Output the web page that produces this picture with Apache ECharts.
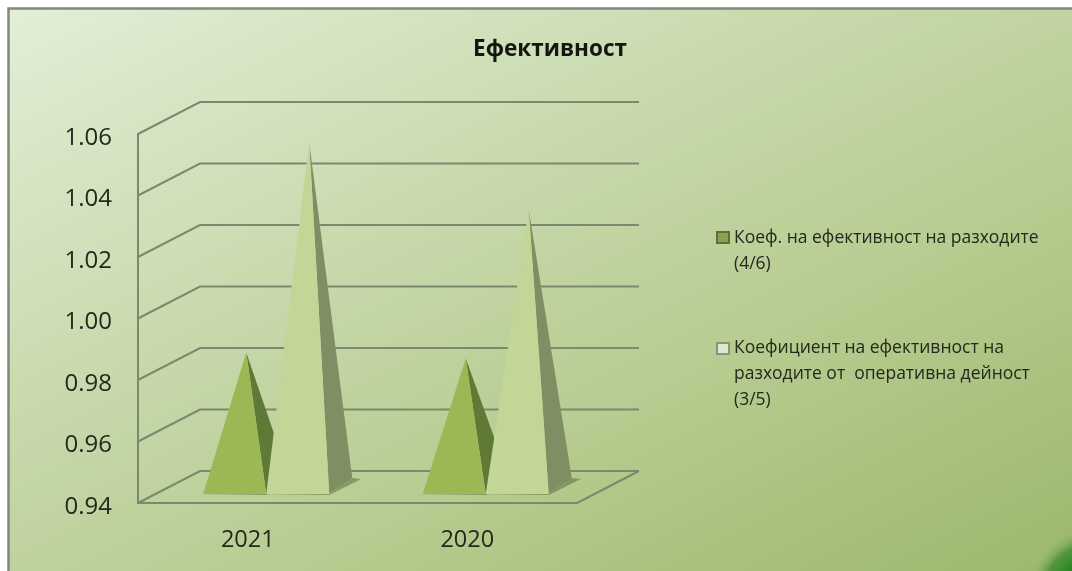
<!DOCTYPE html>
<html>
<head>
<meta charset="utf-8">
<style>html,body{margin:0;padding:0;background:#fff}#c{width:1072px;height:571px}</style>
<script src="https://cdn.jsdelivr.net/npm/echarts@6/dist/echarts.min.js"></script>
</head>
<body>
<div id="c"></div>
<script>
const titleText = 'Ефективност';
const categories = ['2021', '2020'];
const yTicks = [0.94, 0.96, 0.98, 1.00, 1.02, 1.04, 1.06];
const seriesAName = 'Коеф. на ефективност на разходите\n(4/6)';
const seriesBName = 'Коефициент на ефективност на\nразходите от  оперативна дейност\n(3/5)';
const seriesAValues = [0.9834, 0.9815];
const seriesBValues = [1.0517, 1.0299];

const FONT = '"Open Sans", sans-serif';
const WALL = { dx: 62, dy: -32 };       // depth of the 3D box
const BAR = { w: 63, dx: 23, dy: -16 }; // pyramid base
const BASE_FRONT = 0.28;                // base front edge, share of box depth
const GROUP_SHIFT = 18.5;
const GRID_COLOR = '#7a8a6c';
const TEXT_COLOR = '#23291d';

function wallItem(params, api) {
  const cs = params.coordSys;
  const y = api.coord([api.value(0), api.value(1)])[1];
  const left = cs.x, right = cs.x + cs.width;
  const children = [{
    type: 'polyline',
    shape: { points: [[left, y], [left + WALL.dx, y + WALL.dy], [right + WALL.dx, y + WALL.dy]] },
    style: { stroke: GRID_COLOR, lineWidth: 2, fill: 'none' }
  }];
  if (params.dataIndex === 0) {
    children.push({
      type: 'line',
      shape: { x1: right, y1: y, x2: right + WALL.dx, y2: y + WALL.dy },
      style: { stroke: GRID_COLOR, lineWidth: 2 }
    });
  }
  return { type: 'group', children };
}

function pyramidRenderer(side, front, shade) {
  return function (params, api) {
    const cat = api.value(0), v = api.value(1);
    const bandX = api.coord([cat, yTicks[0]]);
    const tipAt = api.coord([cat, v]);
    const x0 = bandX[0] + GROUP_SHIFT + (side === 0 ? -BAR.w : 0);
    const x1 = x0 + BAR.w;
    const y0 = bandX[1] + WALL.dy * BASE_FRONT;
    const tip = [x0 + BAR.w / 2 + BAR.dx / 2, tipAt[1] + WALL.dy * BASE_FRONT + BAR.dy / 2];
    const back = [x1 + BAR.dx, y0 + BAR.dy];
    return {
      type: 'group',
      children: [
        { type: 'polygon',
          shape: { points: [[x0 - 8, y0 + 1], [x1, y0 + 1], [back[0] + 9, back[1] + 1], [back[0], back[1]], [x1, y0]] },
          style: { fill: 'rgba(70,90,40,0.45)' } },
        { type: 'polygon', shape: { points: [[x1, y0], back, tip] }, style: { fill: shade } },
        { type: 'polygon', shape: { points: [[x0, y0], [x1, y0], tip] }, style: { fill: front } }
      ]
    };
  };
}

const chart = echarts.init(document.getElementById('c'), null, { renderer: 'canvas' });

function legendIcon(h, off) {
  // square sits beside the first text line; the zero-size marks keep the item's full height
  return 'path://M0 0L0.01 0Z M0 ' + off + 'H12V' + (off + 11) + 'H0Z M0 ' + h + 'L0.01 ' + h + 'Z';
}
const legendCommon = {
  orient: 'vertical', left: 711, itemWidth: 12, selectedMode: false,
  symbolKeepAspect: false, itemGap: 0,
  textStyle: { fontFamily: FONT, fontSize: 17.5, lineHeight: 26, color: TEXT_COLOR }
};

chart.setOption({
  animation: false,
  backgroundColor: '#ffffff',
  title: {
    text: titleText, left: 545, top: 33, textAlign: 'center',
    textStyle: { fontFamily: FONT, fontSize: 22.5, fontWeight: 'bold', color: '#14160f' }
  },
  graphic: [
    { type: 'rect', z: -10, shape: { x: 8.5, y: 8.5, width: 1090, height: 590 },
      style: {
        fill: { type: 'linear', global: true, x: 8, y: 8, x2: 451, y2: 894, colorStops: [
          { offset: 0, color: '#e3eed8' }, { offset: 0.27, color: '#cfdfb8' },
          { offset: 0.49, color: '#c0d3a0' }, { offset: 0.66, color: '#b5cb8e' },
          { offset: 0.8, color: '#aac280' }, { offset: 0.94, color: '#9fbb73' },
          { offset: 1, color: '#9ab86d' } ] },
        stroke: '#7f8a78', lineWidth: 2.5
      } },
    { type: 'circle', z: -9, shape: { cx: 1100, cy: 600, r: 75 },
      style: { fill: { type: 'radial', x: 0.5, y: 0.5, r: 0.5, colorStops: [
        { offset: 0.5, color: 'rgba(30,130,30,1)' }, { offset: 0.78, color: 'rgba(50,135,40,0.7)' },
        { offset: 1, color: 'rgba(150,185,110,0)' } ] } } }
  ],
  legend: [
    Object.assign({}, legendCommon, {
      top: 219, itemHeight: 52,
      data: [{ name: seriesAName, icon: legendIcon(52, 7) }]
    }),
    Object.assign({}, legendCommon, {
      top: 329, itemHeight: 78,
      data: [{ name: seriesBName, icon: legendIcon(78, 8) }]
    })
  ],
  grid: { left: 138, right: 495, top: 134, bottom: 68, containLabel: false },
  xAxis: {
    type: 'category', data: categories, boundaryGap: true,
    axisTick: { show: false },
    axisLine: { show: true, lineStyle: { color: GRID_COLOR, width: 2 } },
    axisLabel: { fontFamily: FONT, fontSize: 23.5, color: TEXT_COLOR, margin: 25 }
  },
  yAxis: {
    type: 'value', min: 0.94, max: 1.06, interval: 0.02,
    splitLine: { show: false },
    axisTick: { show: false },
    axisLine: { show: true, lineStyle: { color: GRID_COLOR, width: 2 } },
    axisLabel: { fontFamily: FONT, fontSize: 24, color: TEXT_COLOR, margin: 26,
      formatter: v => '{n|' + v.toFixed(2) + '}',
      rich: { n: { fontFamily: FONT, fontSize: 24, color: TEXT_COLOR, padding: [8, 0, 0, 0] } } }
  },
  series: [
    { type: 'custom', name: 'walls', silent: true, z: 1, renderItem: wallItem,
      clip: false, data: yTicks.map(t => [0, t]), encode: { x: 0, y: 1 } },
    { type: 'custom', name: seriesAName, z: 3, clip: false,
      itemStyle: { color: '#8aa24c', borderColor: '#5f6f3a', borderWidth: 1 },
      renderItem: pyramidRenderer(0, '#9ab954', '#5f7a36'),
      data: seriesAValues.map((v, i) => [i, v]), encode: { x: 0, y: 1 } },
    { type: 'custom', name: seriesBName, z: 4, clip: false,
      itemStyle: { color: '#dfe8cc', borderColor: '#8a9478', borderWidth: 1 },
      renderItem: pyramidRenderer(1, '#c2d698', '#7f8e63'),
      data: seriesBValues.map((v, i) => [i, v]), encode: { x: 0, y: 1 } }
  ]
});
</script>
</body>
</html>
